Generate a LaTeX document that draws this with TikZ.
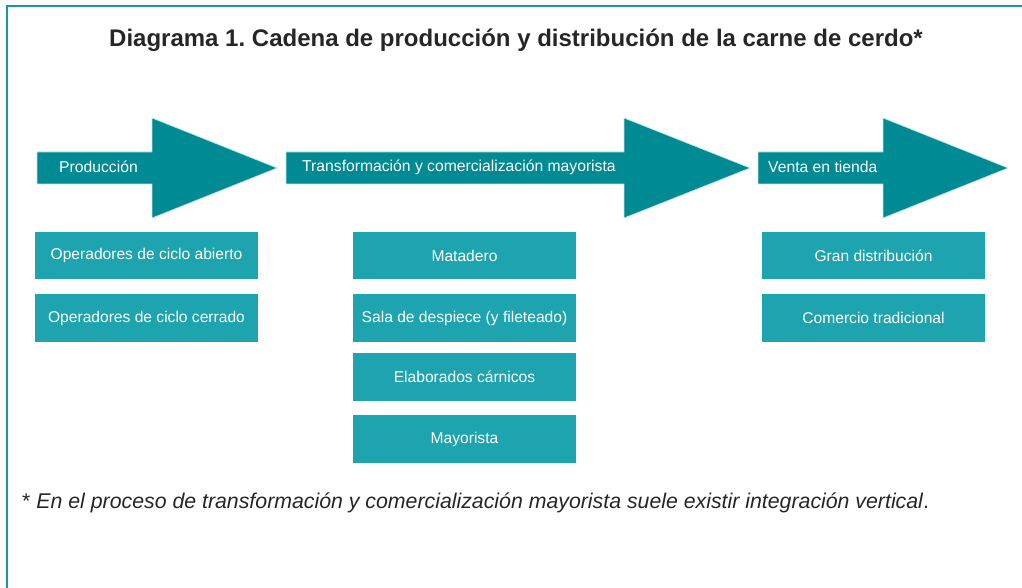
\documentclass[tikz,border=0pt]{standalone}
\usepackage{fontspec}
\setmainfont{Liberation Sans}
\usetikzlibrary{positioning}

\definecolor{tealdark}{HTML}{008A94}
\definecolor{teallight}{HTML}{1EA4AF}
\definecolor{tealborde}{HTML}{1A98A2}

\tikzset{
  caja/.style={fill=teallight, text=white, minimum width=223pt, minimum height=47.5pt,
    inner sep=0pt, font=\fontsize{15.6}{18}\selectfont},
  flecha/.style={fill=tealdark, draw=white!75!tealdark, line width=0.6pt},
  etiqueta/.style={text=white, anchor=west, inner sep=0pt, font=\fontsize{15.7}{18}\selectfont}
}

\begin{document}
\frenchspacing
\begin{tikzpicture}[x=1pt, y=-1pt]
  \useasboundingbox (0,0) rectangle (1022,588);

  % marco
  \draw[tealborde, line width=2pt] (7,588) -- (7,6.5) -- (1022,6.5);

  \node[font=\bfseries\fontsize{24}{28}\selectfont, text=black!85] (titulo) at (516,40)
    {Diagrama 1. Cadena de producción y distribución de la carne de cerdo*};

  % flechas: inicio, base de la punta, punta
  \foreach \a/\b/\c in {37/152/277, 286/624/750, 758/883/1008} {
    \fill[flecha] (\a,152) -- (\b,152) -- (\b,118) -- (\c,168) -- (\b,218) -- (\b,184) -- (\a,184) -- cycle;
  }
  \node[etiqueta] (prod) at (59,167) {Producción};
  \node[etiqueta] (trans) at (302,167) {Transformación y comercialización mayorista};
  \node[etiqueta] (venta) at (768,167) {Venta en tienda};

  % eslabones
  \node[caja] (abierto) at (146.5,255.5) {Operadores de ciclo abierto};
  \node[caja] (cerrado) at (146.5,318) {Operadores de ciclo cerrado};

  \node[caja] (matadero) at (464.5,255.5) {Matadero};
  \node[caja] (despiece) at (464.5,318) {Sala de despiece (y fileteado)};
  \node[caja] (elaborados) at (464.5,377) {Elaborados cárnicos};
  \node[caja] (mayorista) at (464.5,439) {Mayorista};

  \node[caja] (gran) at (873.5,255.5) {Gran distribución};
  \node[caja] (comercio) at (873.5,318) {Comercio tradicional};

  \node[anchor=west, inner sep=0pt, text=black!85, font=\fontsize{21.3}{24}\selectfont] (nota) at (22,503)
    {* \textit{En el proceso de transformación y comercialización mayorista suele existir integración vertical}.};
\end{tikzpicture}
\end{document}
